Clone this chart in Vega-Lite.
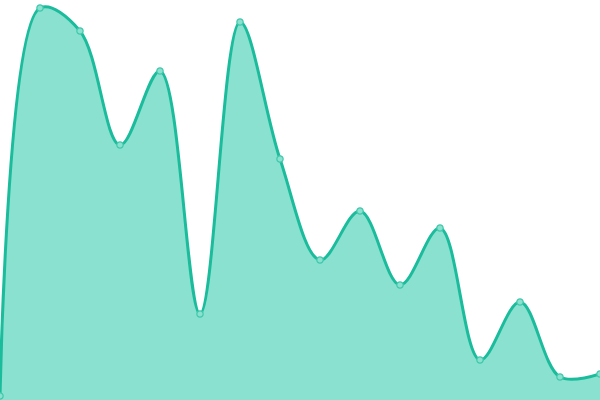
{
  "$schema": "https://vega.github.io/schema/vega-lite/v6.json",
  "width": 600,
  "height": 400,
  "autosize": {"type": "none"},
  "padding": 0,
  "background": "white",
  "config": {"view": {"stroke": null}},
  "data": {
    "values": [
      {"x": 0, "y": 4},
      {"x": 1, "y": 392},
      {"x": 2, "y": 369},
      {"x": 3, "y": 255},
      {"x": 4, "y": 329},
      {"x": 5, "y": 86},
      {"x": 6, "y": 378},
      {"x": 7, "y": 241},
      {"x": 8, "y": 140},
      {"x": 9, "y": 189},
      {"x": 10, "y": 115},
      {"x": 11, "y": 172},
      {"x": 12, "y": 40},
      {"x": 13, "y": 98},
      {"x": 14, "y": 23},
      {"x": 15, "y": 26}
    ]
  },
  "encoding": {
    "x": {
      "field": "x",
      "type": "quantitative",
      "scale": {"domain": [0, 15], "nice": false, "zero": false},
      "axis": null
    },
    "y": {
      "field": "y",
      "type": "quantitative",
      "scale": {"domain": [0, 400], "nice": false},
      "axis": null
    }
  },
  "layer": [
    {
      "mark": {
        "type": "area",
        "interpolate": "catmull-rom",
        "fill": "#8ae1d0",
        "fillOpacity": 1,
        "line": {"color": "#1abc9c", "strokeWidth": 3}
      }
    },
    {
      "mark": {
        "type": "point",
        "filled": true,
        "size": 40,
        "fill": "#8ae1d0",
        "stroke": "#40c9ab",
        "strokeWidth": 1.2,
        "opacity": 1
      }
    }
  ]
}
